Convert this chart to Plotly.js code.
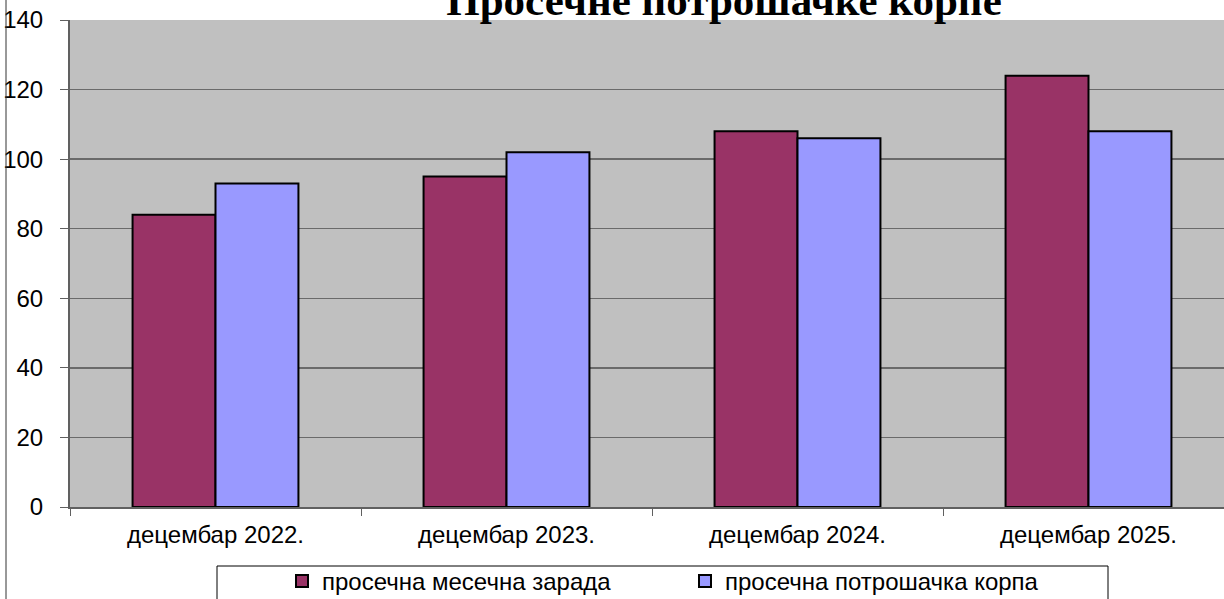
<!DOCTYPE html>
<html>
<head>
<meta charset="utf-8">
<script src="https://cdn.plot.ly/plotly-3.0.1.min.js"></script>
<style>
html,body{margin:0;padding:0;overflow:hidden;background:#fff;}
#chart{width:1224px;height:599px;}
</style>
</head>
<body>
<div id="chart"></div>
<script>
var categories = ["децембар 2022.", "децембар 2023.", "децембар 2024.", "децембар 2025."];
var seriesNames = ["просечна месечна зарада", "просечна потрошачка корпа"];
var zarada = [84, 95, 108, 124];
var korpa = [93, 102, 106, 108];
var yTicks = [0, 20, 40, 60, 80, 100, 120, 140];
var titleText = "Просечне потрошачке корпе";

var W = 1224, H = 599, L = 70, T = 20, B = 92;
var pw = W - L, ph = H - T - B;
var catW = 291;
function px(x){ return (x - L) / pw; }
function py(y){ return (H - B - y) / ph; }

var traces = [
  {type:"bar", name:seriesNames[0], x:categories, y:zarada,
   marker:{color:"#993366", line:{color:"#000000", width:2}}},
  {type:"bar", name:seriesNames[1], x:categories, y:korpa,
   marker:{color:"#9999FF", line:{color:"#000000", width:2}}}
];

var layout = {
  width: W, height: H,
  margin: {l: L, r: 0, t: T, b: B, pad: 0, autoexpand: false},
  paper_bgcolor: "#ffffff",
  plot_bgcolor: "#C0C0C0",
  font: {family: "Arial, Liberation Sans, sans-serif", size: 24, color: "#000000"},
  barmode: "group",
  bargap: 0.43,
  bargroupgap: 0,
  title: {
    text: "<b>" + titleText + "</b>",
    font: {family: "Liberation Serif, Times New Roman, serif", size: 43, color: "#000000"},
    xref: "container", x: 724 / W, xanchor: "center",
    yref: "container", y: 1.0, yanchor: "middle",
    automargin: false
  },
  xaxis: {
    type: "category",
    range: [-0.5, -0.5 + pw / catW],
    showgrid: false,
    showline: true, linecolor: "#606060", linewidth: 2,
    ticks: "outside", tickson: "boundaries", ticklen: 7, tickcolor: "#606060", tickwidth: 1,
    ticklabelstandoff: 5,
    tickfont: {size: 24},
    zeroline: false,
    automargin: false,
    fixedrange: true
  },
  yaxis: {
    range: [0, 140],
    tickvals: yTicks,
    showgrid: true, gridcolor: "#6a6a6a", gridwidth: 1.5,
    showline: true, linecolor: "#606060", linewidth: 2,
    ticks: "outside", ticklen: 8, tickcolor: "#606060", tickwidth: 1,
    ticklabelstandoff: 12,
    tickfont: {size: 24},
    zeroline: false,
    automargin: false,
    fixedrange: true
  },
  showlegend: true,
  legend: {
    orientation: "h",
    xref: "paper", yref: "paper",
    x: px(282), xanchor: "left",
    y: py(559), yanchor: "top",
    bgcolor: "rgba(0,0,0,0)",
    borderwidth: 0,
    entrywidth: 358, entrywidthmode: "pixels",
    font: {size: 24, family: "Arial, Liberation Sans, sans-serif", color: "#000"},
    traceorder: "normal"
  },
  shapes: [
    {type: "line", xref: "paper", yref: "paper",
     x0: px(6), x1: px(6), y0: py(-20), y1: py(620),
     line: {color: "#333333", width: 1}},
    {type: "rect", xref: "paper", yref: "paper",
     x0: px(217), x1: px(1108), y0: py(566), y1: py(620),
     line: {color: "#000000", width: 1}, fillcolor: "#ffffff", layer: "below"}
  ]
};

Plotly.newPlot("chart", traces, layout, {displayModeBar: false, staticPlot: true});
</script>
</body>
</html>
